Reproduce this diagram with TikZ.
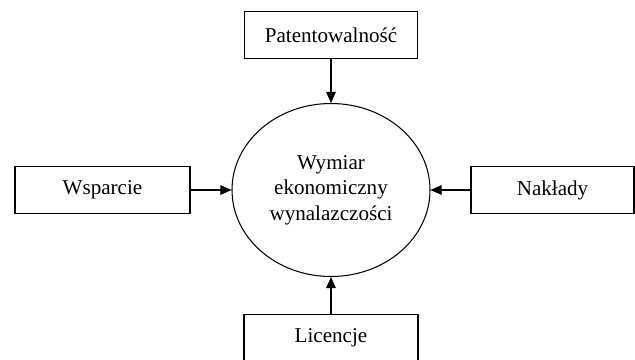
\documentclass[tikz,border=0pt]{standalone}
\usepackage{fontspec}
\setmainfont{Liberation Serif}
\usetikzlibrary{shapes.geometric,arrows.meta}
\begin{document}
\begin{tikzpicture}[
    font=\fontsize{12}{14.5}\selectfont,
    box/.style={draw, line width=0.6pt, minimum height=0.93cm, inner sep=2pt},
    circ/.style={draw, ellipse, line width=0.6pt, inner sep=0pt, align=center,
      minimum width=3.96cm, minimum height=3.46cm},
    >={Triangle[length=0.22cm,width=0.19cm]}, line width=0.6pt]
      \clip (0,0) rectangle (12.7,-7.18);
      \node [circ] (e) at (6.62,-3.80) {Wymiar\\ekonomiczny\\wynalazczości};
      \node [box, minimum width=3.46cm] (p) at (6.62,-0.70) {Patentowalność};
      \node [box, minimum width=3.50cm] (w) at (2.05,-3.80) {Wsparcie};
      \node [box, minimum width=3.26cm] (n) at (11.05,-3.80) {Nakłady};
      \node [box, minimum width=3.48cm] (l) at (6.62,-6.76) {Licencje};
      \draw [->] (p) -- (e);
      \draw [->] (w) -- (e);
      \draw [->] (n) -- (e);
      \draw [->] (l) -- (e);
    \end{tikzpicture}
\end{document}
